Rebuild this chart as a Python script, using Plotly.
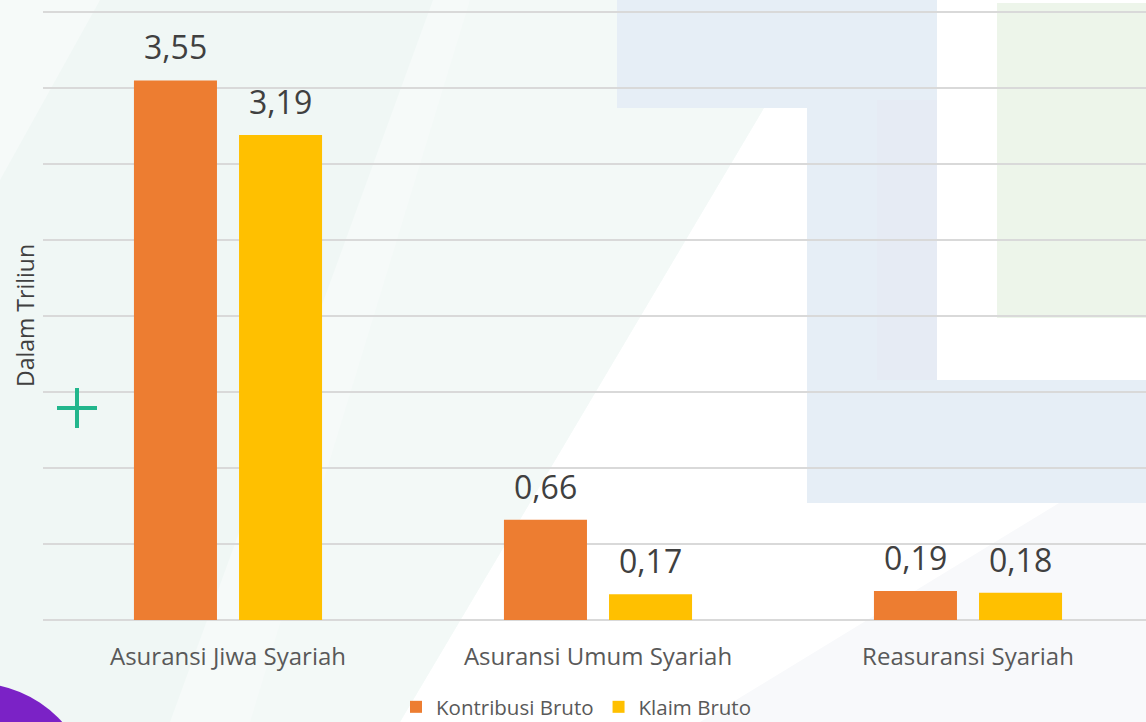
import plotly.graph_objects as go

categories = ["Asuransi Jiwa Syariah", "Asuransi Umum Syariah", "Reasuransi Syariah"]
series_names = ["Kontribusi Bruto", "Klaim Bruto"]
kontribusi = [3.55, 0.66, 0.19]
klaim = [3.19, 0.17, 0.18]
colors = ["#ED7D31", "#FFC000"]

W, H = 1146, 722
L, R, T, B = 43, 0, 8, 102
PW = W - L - R
PH = H - T - B
Y_TOP = 4.0 * PH / (H - B - 12)  # value 4.0 sits at pixel row 12


def px(x):
    return (x - L) / PW


def py(y):
    return (H - B - y) / PH


def fmt(v):
    return f"{v:.2f}".replace(".", ",")


def poly(pts):
    return "M " + " L ".join(f"{px(a)},{py(b)}" for a, b in pts) + " Z"


fig = go.Figure()
for name, vals, col in zip(series_names, [kontribusi, klaim], colors):
    fig.add_trace(go.Bar(name=name, x=categories, y=vals, marker=dict(color=col, line=dict(width=0))))

# data labels
for vals, shift in zip([kontribusi, klaim], [-52.5, 52.5]):
    for c, v in zip(categories, vals):
        fig.add_annotation(x=c, y=v, xref="x", yref="y", text=fmt(v), showarrow=False,
                           xshift=shift, yshift=10, yanchor="bottom",
                           font=dict(family="Open Sans", size=32, color="#404040"))

# y title
fig.add_annotation(x=px(25), y=py(316), xref="paper", yref="paper", text="Dalam Triliun",
                   textangle=-90, showarrow=False, xanchor="center", yanchor="middle",
                   font=dict(family="Open Sans", size=23, color="#404040"))

shapes = []
# background soft bands
shapes.append(dict(type="path", xref="paper", yref="paper", layer="below",
                   path=poly([(0, 0), (828, 0), (400, 722), (0, 722)]),
                   fillcolor="#f6faf9", line=dict(width=0)))
shapes.append(dict(type="path", xref="paper", yref="paper", layer="below",
                   path=poly([(100, 0), (433, 0), (170, 722), (0, 722), (0, 180)]),
                   fillcolor="#f0f7f5", line=dict(width=0)))
shapes.append(dict(type="path", xref="paper", yref="paper", layer="below",
                   path=poly([(470, 0), (828, 0), (400, 722), (250, 722)]),
                   fillcolor="#f3f9f7", line=dict(width=0)))
shapes.append(dict(type="path", xref="paper", yref="paper", layer="below",
                   path=poly([(700, 722), (1146, 450), (1146, 722)]),
                   fillcolor="#f8f9fb", line=dict(width=0)))
# blue L decorations
blue = "#e6eef6"
shapes.append(dict(type="rect", xref="paper", yref="paper", layer="below",
                   x0=px(617), x1=px(937), y0=py(0), y1=py(108), fillcolor=blue, line=dict(width=0)))
shapes.append(dict(type="rect", xref="paper", yref="paper", layer="below",
                   x0=px(807), x1=px(937), y0=py(0), y1=py(503), fillcolor=blue, line=dict(width=0)))
shapes.append(dict(type="rect", xref="paper", yref="paper", layer="below",
                   x0=px(807), x1=px(1146), y0=py(380), y1=py(503), fillcolor=blue, line=dict(width=0)))
shapes.append(dict(type="rect", xref="paper", yref="paper", layer="below",
                   x0=px(877), x1=px(937), y0=py(100), y1=py(380), fillcolor="#e6ebf4", line=dict(width=0)))
# green rect
shapes.append(dict(type="rect", xref="paper", yref="paper", layer="below",
                   x0=px(997), x1=px(1146), y0=py(3), y1=py(318), fillcolor="#edf5ea", line=dict(width=0)))
# purple circle
shapes.append(dict(type="circle", xref="paper", yref="paper", layer="above",
                   x0=px(-142), x1=px(92), y0=py(683), y1=py(917), fillcolor="#7b22c6", line=dict(width=0)))
# green plus
shapes.append(dict(type="line", xref="paper", yref="paper", layer="above",
                   x0=px(57), x1=px(97), y0=py(408), y1=py(408), line=dict(color="#22b68c", width=4)))
shapes.append(dict(type="line", xref="paper", yref="paper", layer="above",
                   x0=px(77), x1=px(77), y0=py(388), y1=py(428), line=dict(color="#22b68c", width=4)))

fig.update_layout(
    width=W, height=H,
    margin=dict(l=L, r=R, t=T, b=B, pad=0),
    paper_bgcolor="#ffffff",
    plot_bgcolor="rgba(0,0,0,0)",
    barmode="group",
    bargap=0.432,
    bargroupgap=0.21,
    shapes=shapes,
    showlegend=True,
    legend=dict(orientation="h", xref="paper", x=px(576), xanchor="center",
                yref="container", y=1 - 707 / H, yanchor="middle",
                font=dict(family="Open Sans", size=20.5, color="#595959"),
                bgcolor="rgba(0,0,0,0)", traceorder="normal"),
    xaxis=dict(range=[-0.5, (W - L) / 370 - 0.5], showgrid=False, zeroline=False, showline=False,
               ticks="", tickfont=dict(family="Open Sans", size=24, color="#595959"),
               ticklabelstandoff=20, fixedrange=True),
    yaxis=dict(range=[0, Y_TOP], tick0=0, dtick=0.5, showticklabels=False, showgrid=True,
               gridcolor="#d9d9d9", gridwidth=2, zeroline=True, zerolinecolor="#d9d9d9",
               zerolinewidth=2, showline=False, ticks="", fixedrange=True),
    font=dict(family="Open Sans"),
)

fig.write_html("out.html", config={"displayModeBar": False},
               post_script="document.body.style.margin='0';document.body.style.overflow='hidden';")
